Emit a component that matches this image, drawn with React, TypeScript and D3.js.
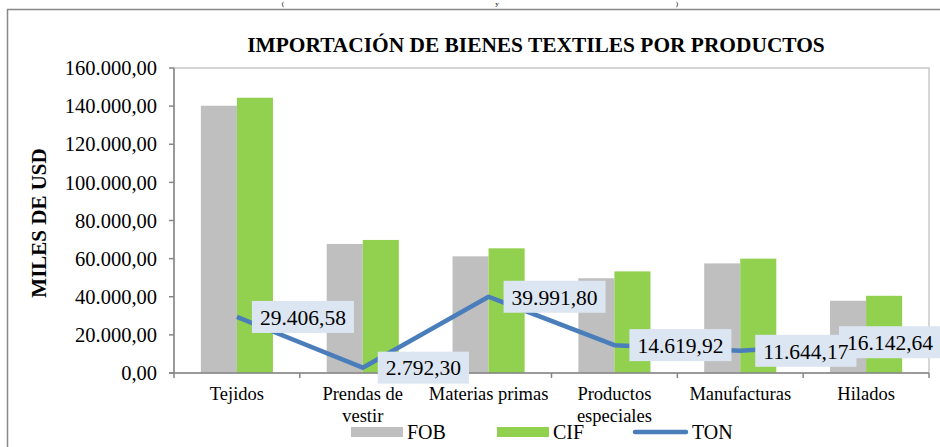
import React from "react";
import * as d3 from "d3";

const categories = ["Tejidos", "Prendas de vestir", "Materias primas", "Productos especiales", "Manufacturas", "Hilados"];
const fobValues = [140200, 67700, 61200, 49700, 57500, 37900];
const cifValues = [144400, 69800, 65400, 53300, 60000, 40500];
const tonValues = [29406.58, 2792.3, 39991.8, 14619.92, 11644.17, 16142.64];
const yTicks = [0, 20000, 40000, 60000, 80000, 100000, 120000, 140000, 160000];
const seriesNames = ["FOB", "CIF", "TON"];

const W = 940, H = 447;
const FONT = "'Liberation Serif', 'Times New Roman', serif";
const GRAY = "#BFBFBF";
const GREEN = "#92D050";
const BLUE = "#4A7EBB";
const LABEL_BG = "#DCE6F2";

const locale = d3.formatLocale({ decimal: ",", thousands: ".", grouping: [3], currency: ["", ""] });
const fmt = locale.format(",.2f");

let ctx: CanvasRenderingContext2D | null = null;
function measure(text: string, font: string) {
  if (!ctx) ctx = document.createElement("canvas").getContext("2d");
  if (!ctx) return text.length * 9;
  ctx.font = font;
  return ctx.measureText(text).width;
}
function wrap(text: string, maxW: number, font: string) {
  const words = text.split(" ");
  const lines: string[] = [];
  let cur = "";
  for (const w of words) {
    const t = cur ? cur + " " + w : w;
    if (cur && measure(t, font) > maxW) {
      lines.push(cur);
      cur = w;
    } else cur = t;
  }
  if (cur) lines.push(cur);
  return lines;
}

export default function App() {
  const left = 174, right = 929, top = 68, bottom = 373;
  const chartRight = 941;
  const x0 = d3.scaleBand<string>().domain(categories).range([left, right]).padding(0);
  const x1 = d3.scaleBand<string>().domain(["FOB", "CIF"]).range([0, x0.bandwidth()]).paddingInner(0).paddingOuter(0.745);
  const y = d3.scaleLinear().domain([0, 160000]).range([bottom, top]);
  const cx = (c: string) => (x0(c) as number) + x0.bandwidth() / 2;

  const line = d3.line<number>().x((_, i) => cx(categories[i])).y((d) => y(d));

  const catFont = `18.5px ${FONT}`;
  const labelFontSize = 21.5;
  const labelFont = `${labelFontSize}px ${FONT}`;

  const boundaries = d3.range(categories.length + 1).map((i) => left + i * x0.step());

  const labels = tonValues.map((v, i) => {
    const t = fmt(v);
    const tw = measure(t, labelFont);
    const bw = tw + 16, bh = 32;
    const px = cx(categories[i]), py = y(v);
    const bx = Math.min(px + 15, chartRight - bw);
    return { t, bw, bh, bx, by: py - bh / 2, py };
  });

  return (
    <svg width={W} height={H} style={{ position: "absolute", left: 0, top: 0, background: "#fff" }} fontFamily={FONT}>
      <rect x={0} y={0} width={W} height={H} fill="#fff" />
      {/* heading fragments above frame */}
      <g fontSize={7} fill="#000">
        <text x={283} y={6} textAnchor="middle">(</text>
        <text x={497} y={6} textAnchor="middle">y</text>
        <text x={677} y={6} textAnchor="middle">)</text>
      </g>
      {/* outer frame */}
      <rect x={7.5} y={9.5} width={1000} height={600} fill="none" stroke="#888" strokeWidth={1.5} />

      {/* title */}
      <text x={536} y={52} textAnchor="middle" fontWeight="bold" fontSize={21.4}>
        IMPORTACIÓN DE BIENES TEXTILES POR PRODUCTOS
      </text>

      {/* y title */}
      <text transform={`translate(46,223) rotate(-90)`} textAnchor="middle" fontWeight="bold" fontSize={21}>
        MILES DE USD
      </text>

      {/* plot border */}
      <rect x={left} y={top} width={right - left} height={bottom - top} fill="none" stroke="#C8C8C8" strokeWidth={1.5} />

      {/* bars */}
      {categories.map((c, i) => (
        <g key={c}>
          <rect x={(x0(c) as number) + (x1("FOB") as number)} y={y(fobValues[i])} width={x1.bandwidth()} height={bottom - y(fobValues[i])} fill={GRAY} />
          <rect x={(x0(c) as number) + (x1("CIF") as number)} y={y(cifValues[i])} width={x1.bandwidth()} height={bottom - y(cifValues[i])} fill={GREEN} />
        </g>
      ))}

      {/* axes */}
      <line x1={left} x2={left} y1={top} y2={bottom} stroke="#868686" strokeWidth={1.5} />
      <line x1={left - 5} x2={right} y1={bottom} y2={bottom} stroke="#868686" strokeWidth={1.5} />
      {yTicks.map((t) => (
        <g key={t}>
          <line x1={left - 5} x2={left} y1={y(t)} y2={y(t)} stroke="#868686" strokeWidth={1.5} />
          <text x={157} y={y(t)} dy="0.35em" textAnchor="end" fontSize={20.5}>
            {fmt(t)}
          </text>
        </g>
      ))}
      {boundaries.map((b, i) => (
        <line key={i} x1={b} x2={b} y1={bottom} y2={bottom + 5} stroke="#868686" strokeWidth={1.5} />
      ))}
      {categories.map((c) => {
        const lines = wrap(c, x0.step() - 4, catFont);
        return (
          <text key={c} x={cx(c)} y={400} textAnchor="middle" fontSize={18.5}>
            {lines.map((l, j) => (
              <tspan key={j} x={cx(c)} dy={j === 0 ? 0 : 21.5}>
                {l}
              </tspan>
            ))}
          </text>
        );
      })}

      {/* TON line */}
      <path d={line(tonValues) || ""} fill="none" stroke={BLUE} strokeWidth={4.5} strokeLinejoin="round" />

      {/* data labels: boxes first, then texts */}
      {labels.map((l, i) => (
        <rect key={"b" + i} x={l.bx} y={l.by} width={l.bw} height={l.bh} fill={LABEL_BG} />
      ))}
      {labels.map((l, i) => (
        <text key={"t" + i} x={l.bx + 8} y={l.py} dy="0.36em" fontSize={labelFontSize}>
          {l.t}
        </text>
      ))}

      {/* legend */}
      <rect x={351} y={427} width={52} height={10} fill={GRAY} />
      <text x={407} y={439} fontSize={20}>{seriesNames[0]}</text>
      <rect x={497} y={427} width={52} height={10} fill={GREEN} />
      <text x={553} y={439} fontSize={20}>{seriesNames[1]}</text>
      <line x1={635} x2={686} y1={432} y2={432} stroke={BLUE} strokeWidth={4.5} strokeLinecap="round" />
      <text x={692} y={439} fontSize={20}>{seriesNames[2]}</text>
    </svg>
  );
}
